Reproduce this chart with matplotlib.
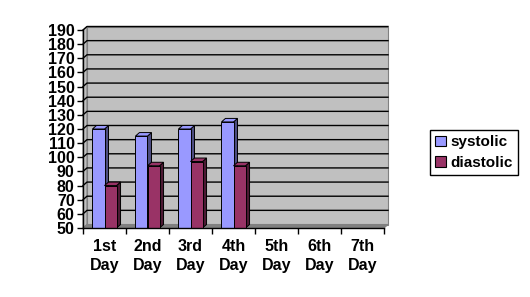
import matplotlib
matplotlib.use("Agg")
from matplotlib import pyplot as plt
from matplotlib.patches import Polygon, Patch

days = ["1st\nDay", "2nd\nDay", "3rd\nDay", "4th\nDay", "5th\nDay", "6th\nDay", "7th\nDay"]
systolic = [120, 115, 120, 125]
diastolic = [80, 94, 97, 94]
y_ticks = list(range(50, 191, 10))

front_colors = {"systolic": "#9999FF", "diastolic": "#993366"}
side_colors = {"systolic": "#4C4C80", "diastolic": "#4C1933"}
top_colors = {"systolic": "#9999FF", "diastolic": "#993366"}

plt.rcParams["font.family"] = ["Liberation Sans", "DejaVu Sans"]
plt.rcParams["font.size"] = 11.5
plt.rcParams["font.weight"] = "bold"

fig = plt.figure(figsize=(5.3, 2.97), dpi=100)
ax = fig.add_axes([83 / 530, 69 / 297, 301 / 530, 198 / 297])
ax.set_xlim(0, len(days))
ax.set_ylim(y_ticks[0], y_ticks[-1])
ax.patch.set_visible(False)

# depth of the fake 3d look, in data units
px_x = len(days) / 301
px_y = (y_ticks[-1] - y_ticks[0]) / 198
dx = 4 * px_x
dy = 3.5 * px_y
y0, y1 = y_ticks[0], y_ticks[-1]
n = len(days)

# walls and floor
ax.add_patch(Polygon([(0, y0), (dx, y0 + dy), (dx, y1 + dy), (0, y1)],
                     closed=True, fc="#C0C0C0", ec="#808080", lw=0.8, clip_on=False, zorder=0))
ax.add_patch(Polygon([(dx, y0 + dy), (n + dx, y0 + dy), (n + dx, y1 + dy), (dx, y1 + dy)],
                     closed=True, fc="#C0C0C0", ec="#808080", lw=0.8, clip_on=False, zorder=0))
ax.add_patch(Polygon([(0, y0), (n, y0), (n + dx, y0 + dy), (dx, y0 + dy)],
                     closed=True, fc="#808080", ec="#808080", lw=0.8, clip_on=False, zorder=0.5))

# gridlines on back wall and left wall
for v in y_ticks[1:]:
    ax.plot([0, dx, n + dx], [v, v + dy, v + dy], color="black", lw=1, clip_on=False, zorder=1)

width = 0.28
x_sys = [i + 0.36 for i in range(len(systolic))]
x_dia = [i + 0.64 for i in range(len(diastolic))]
b1 = ax.bar(x_sys, [v - y0 for v in systolic], width, bottom=y0,
            color=front_colors["systolic"], edgecolor="black", lw=0.7, label="systolic")
b2 = ax.bar(x_dia, [v - y0 for v in diastolic], width, bottom=y0,
            color=front_colors["diastolic"], edgecolor="black", lw=0.7, label="diastolic")

rects = []
for r in b1:
    rects.append((r, "systolic"))
for r in b2:
    rects.append((r, "diastolic"))
rects.sort(key=lambda t: t[0].get_x())

for k, (r, name) in enumerate(rects):
    z = 3 + k * 0.1
    x_l = r.get_x()
    x_r = x_l + r.get_width()
    top = r.get_y() + r.get_height()
    r.set_zorder(z + 0.02)
    ax.add_patch(Polygon([(x_r, y0), (x_r + dx, y0 + dy), (x_r + dx, top + dy), (x_r, top)],
                         closed=True, fc=side_colors[name], ec="black", lw=0.7, zorder=z))
    ax.add_patch(Polygon([(x_l, top), (x_r, top), (x_r + dx, top + dy), (x_l + dx, top + dy)],
                         closed=True, fc=top_colors[name], ec="black", lw=0.7, zorder=z + 0.01))

for s in ["top", "right"]:
    ax.spines[s].set_visible(False)
ax.spines["left"].set_linewidth(1)
ax.spines["bottom"].set_linewidth(1)
ax.spines["left"].set_zorder(5)
ax.spines["bottom"].set_zorder(5)

ax.set_yticks(y_ticks)
ax.set_xticks(range(n + 1))
ax.set_xticklabels([])
ax.set_xticks([i + 0.5 for i in range(n)], minor=True)
ax.set_xticklabels(days, minor=True, linespacing=1.35)
ax.tick_params(axis="x", which="major", direction="out", length=4, width=1)
ax.tick_params(axis="x", which="minor", length=0, pad=8)
ax.tick_params(axis="y", direction="out", length=4, width=1, pad=2)

handles = [Patch(facecolor=front_colors["systolic"], edgecolor="black", lw=0.8),
           Patch(facecolor=front_colors["diastolic"], edgecolor="black", lw=0.8)]
leg = fig.legend(handles, ["systolic", "diastolic"], loc="center left",
                 bbox_to_anchor=(430 / 530, 1 - 152.5 / 297), fontsize=11,
                 frameon=True, fancybox=False, edgecolor="black", framealpha=1,
                 handlelength=0.7, handleheight=0.7, handletextpad=0.3,
                 borderpad=0.35, labelspacing=0.4, borderaxespad=0)
leg.get_frame().set_linewidth(1)

fig.savefig("out.png", dpi=100)
